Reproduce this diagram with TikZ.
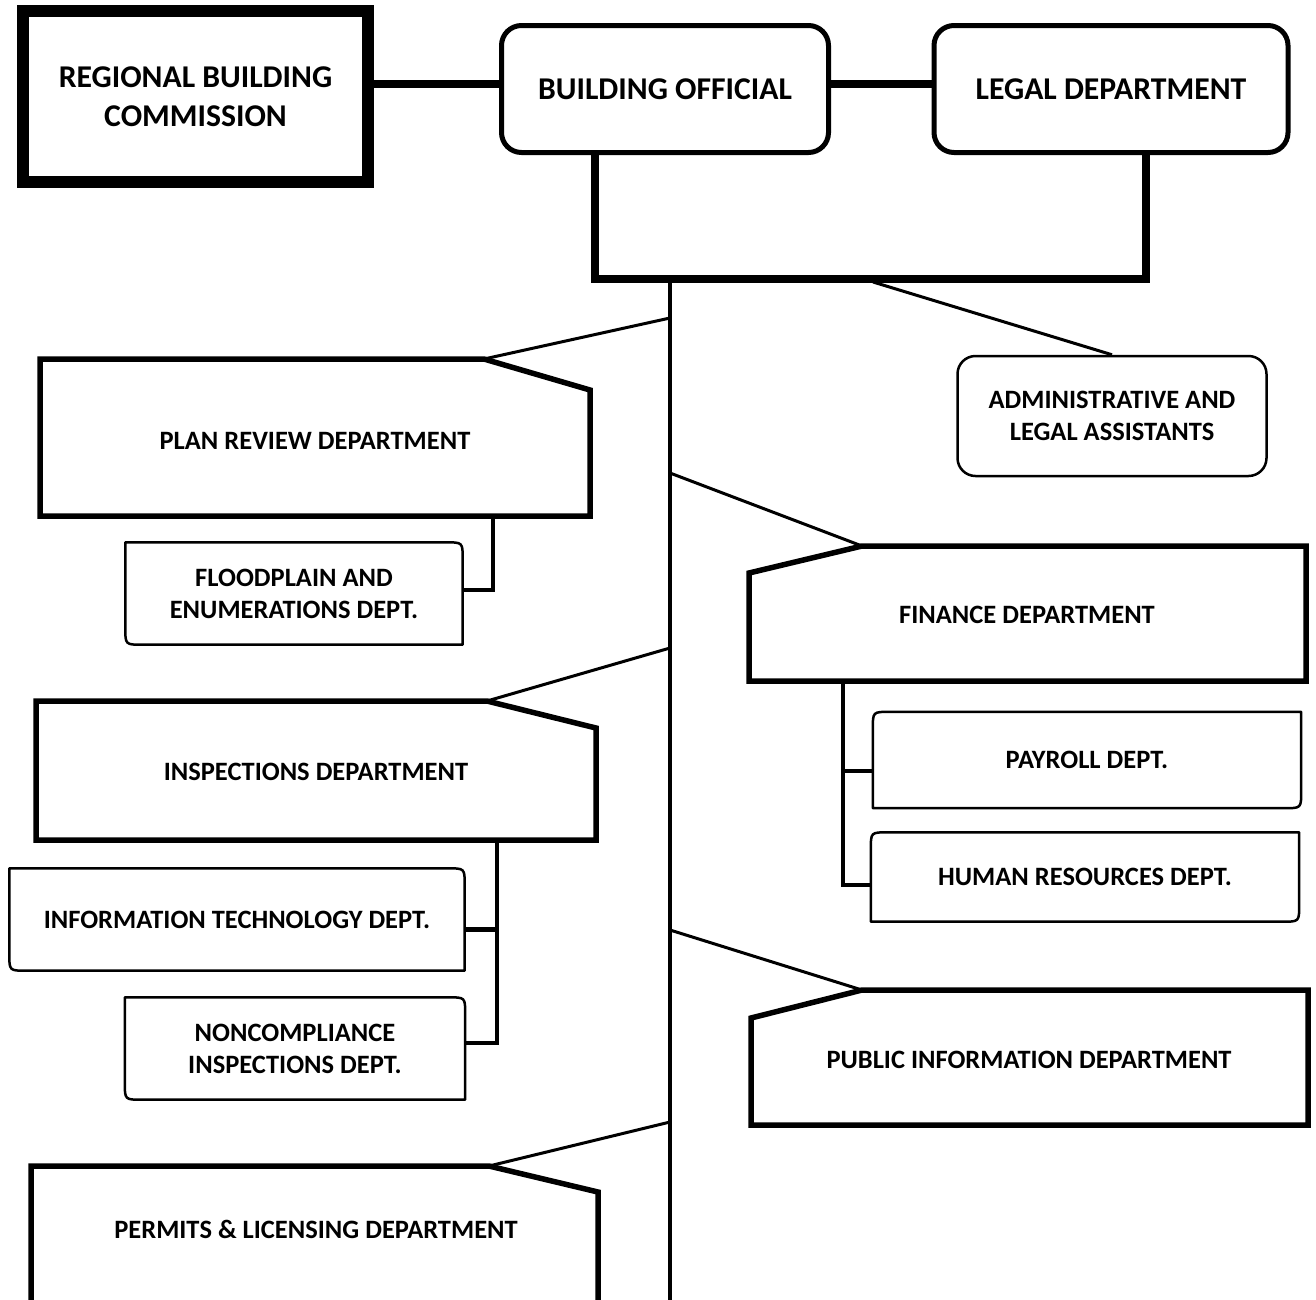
\documentclass[tikz,border=0pt]{standalone}
\usepackage{fontspec}
\setmainfont{Carlito}
\newcommand{\myDiagA}[1]{% rounded top-right and bottom-left
  \draw[thinbox] (#1.north west) -- ([xshift=-17pt]#1.north east) .. controls (#1.north east) .. ([yshift=-17pt]#1.north east) -- (#1.south east) -- ([xshift=17pt]#1.south west) .. controls (#1.south west) .. ([yshift=17pt]#1.south west) -- cycle;}
\newcommand{\myDiagB}[1]{% rounded top-left and bottom-right
  \draw[thinbox] ([xshift=17pt]#1.north west) -- (#1.north east) -- ([yshift=17pt]#1.south east) .. controls (#1.south east) .. ([xshift=-17pt]#1.south east) -- (#1.south west) -- ([yshift=-17pt]#1.north west) .. controls (#1.north west) .. ([xshift=17pt]#1.north west) -- cycle;}
\begin{document}
\begin{tikzpicture}[x=1pt,y=-1pt,
  bigtxt/.style={font=\bfseries\fontsize{31.7}{39}\selectfont, align=center, inner sep=0pt},
  smalltxt/.style={font=\bfseries\fontsize{26.5}{32}\selectfont, align=center, inner sep=0pt},
  headbox/.style={draw, line width=5pt, rounded corners=20pt},
  thinbox/.style={line width=2.5pt, line join=round},
  notchbox/.style={line width=5.5pt, line join=miter},
  thickconn/.style={line width=8pt},
  childconn/.style={line width=4.5pt},
  branch/.style={line width=3pt},
  trunkline/.style={line width=4pt}]
\useasboundingbox (0,0) rectangle (1316,1299);

% top row
\node[bigtxt, draw, line width=12pt, minimum width=345pt, minimum height=171pt] (rbc) at (195.5,96.5) {REGIONAL BUILDING\\COMMISSION};
\node[bigtxt, headbox, minimum width=327pt, minimum height=127pt] (bo) at (665,89) {BUILDING OFFICIAL};
\node[bigtxt, headbox, minimum width=354pt, minimum height=127pt] (legal) at (1111,89) {LEGAL DEPARTMENT};
\coordinate (c1) at ([yshift=5pt]bo.west);
\coordinate (c2) at ([yshift=5pt]bo.east);
\draw[thickconn] (c1) -- (c1 -| rbc.east);
\draw[thickconn] (c2) -- (c2 -| legal.west);

% bracket
\coordinate (bl) at (595,279);
\coordinate (br) at (1146,279);
\draw[thickconn, line join=miter] (bo.south -| bl) -- (bl) -- (br) -- (legal.south -| br);

% trunk
\coordinate (ttop) at (670,283);
\coordinate (tbot) at (670,1302);
\draw[trunkline] (ttop) -- (tbot);

% admin
\node[smalltxt, draw, line width=2.5pt, rounded corners=18pt, minimum width=309pt, minimum height=120pt] (adm) at (1112,416) {ADMINISTRATIVE AND\\LEGAL ASSISTANTS};
\coordinate (bm) at (873,282);
\draw[branch] (bm) -- (adm.north);

% plan review
\coordinate (prA) at (484,359);
\draw[notchbox] (40,359) -- (prA) -- (590,390) -- (590,516) -- (40,516) -- cycle;
\node[smalltxt] (pr) at (315,441) {PLAN REVIEW DEPARTMENT};
\coordinate (t1) at (670,318);
\draw[branch] (prA) -- (t1);
\node[smalltxt, minimum width=337pt, minimum height=102pt] (fp) at (294,593.5) {FLOODPLAIN AND\\ENUMERATIONS DEPT.};
\myDiagA{fp}
\coordinate (prB) at (493,516);
\draw[childconn] (prB) |- ([yshift=3.5pt]fp.east);

% finance
\coordinate (fiA) at (862,546);
\draw[notchbox] (fiA) -- (1306,546) -- (1306,681) -- (749,681) -- (749,573) -- cycle;
\node[smalltxt] (fi) at (1027,615) {FINANCE DEPARTMENT};
\coordinate (t2) at (670,473);
\draw[branch] (t2) -- (fiA);
\node[smalltxt, minimum width=428pt, minimum height=96pt] (pay) at (1087,760) {PAYROLL DEPT.};
\myDiagB{pay}
\node[smalltxt, minimum width=428pt, minimum height=89pt] (hr) at (1085,877) {HUMAN RESOURCES DEPT.};
\myDiagB{hr}
\coordinate (fiB) at (843,681);
\draw[childconn] (fiB) |- ([yshift=-11pt]pay.west);
\draw[childconn] (fiB) |- ([yshift=-8pt]hr.west);

% inspections
\coordinate (inA) at (487,701);
\draw[notchbox] (36,701) -- (inA) -- (596,728) -- (596,840) -- (36,840) -- cycle;
\node[smalltxt] (in) at (316,772) {INSPECTIONS DEPARTMENT};
\coordinate (t3) at (670,648);
\draw[branch] (inA) -- (t3);
\node[smalltxt, minimum width=455pt, minimum height=102pt] (it) at (237,919.5) {INFORMATION TECHNOLOGY DEPT.};
\myDiagA{it}
\node[smalltxt, minimum width=340pt, minimum height=102pt] (nc) at (295,1048.5) {NONCOMPLIANCE\\INSPECTIONS DEPT.};
\myDiagA{nc}
\coordinate (inB) at (497,840);
\draw[childconn] (inB) |- ([yshift=-10pt]it.east);
\draw[childconn] (inB) |- ([yshift=5.5pt]nc.east);

% public information
\coordinate (piA) at (862,990);
\draw[notchbox] (piA) -- (1308,990) -- (1308,1125) -- (751,1125) -- (751,1018) -- cycle;
\node[smalltxt] (pi) at (1029,1060) {PUBLIC INFORMATION DEPARTMENT};
\coordinate (t4) at (670,930);
\draw[branch] (t4) -- (piA);

% permits
\coordinate (peA) at (489,1166);
\draw[notchbox] (31,1305) -- (31,1166) -- (peA) -- (598,1192) -- (598,1305);
\node[smalltxt] (pe) at (316,1229) {PERMITS \& LICENSING DEPARTMENT};
\coordinate (t5) at (670,1122);
\draw[branch] (peA) -- (t5);
\end{tikzpicture}
\end{document}
